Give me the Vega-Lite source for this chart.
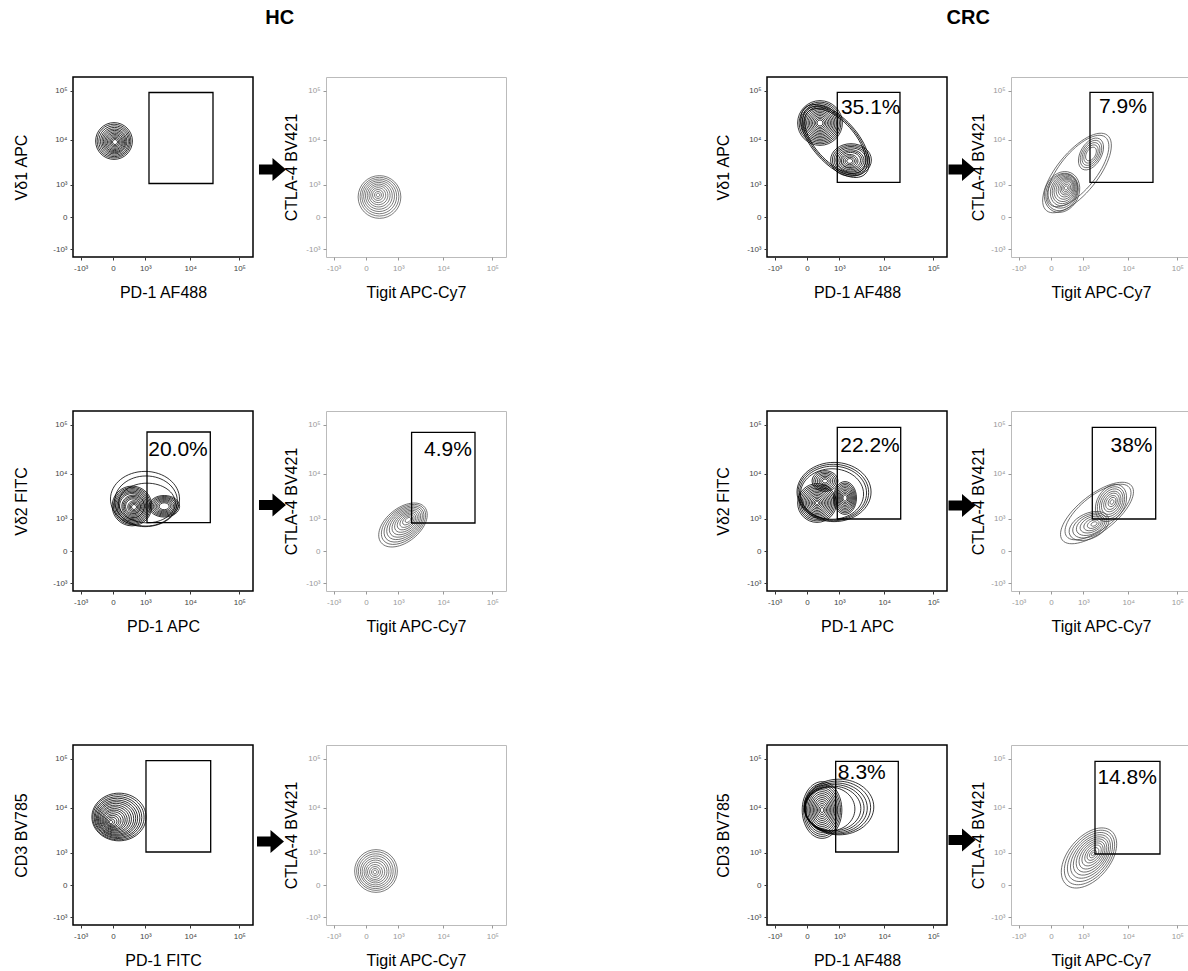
{
"$schema":"https://vega.github.io/schema/vega-lite/v6.json",
"padding":{"left":13,"top":8,"right":0,"bottom":0},
"background":"white",
"config":{
 "font":"Liberation Sans",
 "axis":{"grid":false,"domain":false,"tickSize":3,"tickColor":"#333","tickWidth":1,"labelFontSize":8,"labelColor":"#444","labelFont":"Liberation Sans","titleFont":"Liberation Sans","titleFontSize":16,"titleFontWeight":"normal","titleColor":"#000","labelOverlap":false,"labelFlush":false,"labelBound":false},
 "axisX":{"labelPadding":4,"titlePadding":12},
 "axisY":{"labelPadding":3},
 "title":{"font":"Liberation Sans","fontSize":20,"fontWeight":"bold","anchor":"middle","color":"#000"}
},
"datasets":{
 "contours":[
  {"p":"P1","x":14,"y":9450,"d":0.74,"f":"c","a":0},
  {"p":"P1","x":14,"y":9420,"d":0.68,"f":"c","a":0},
  {"p":"P1","x":17,"y":9350,"d":0.62,"f":"c","a":0},
  {"p":"P1","x":20,"y":9300,"d":0.56,"f":"c","a":0},
  {"p":"P1","x":20,"y":9250,"d":0.50,"f":"c","a":0},
  {"p":"P1","x":22,"y":9200,"d":0.45,"f":"c","a":0},
  {"p":"P1","x":24,"y":9100,"d":0.40,"f":"c","a":0},
  {"p":"P1","x":24,"y":9050,"d":0.35,"f":"c","a":0},
  {"p":"P1","x":26,"y":9000,"d":0.30,"f":"c","a":0},
  {"p":"P1","x":28,"y":9000,"d":0.25,"f":"c","a":0},
  {"p":"P1","x":28,"y":9000,"d":0.20,"f":"c","a":0},
  {"p":"P1","x":28,"y":9000,"d":0.15,"f":"c","a":0},
  {"p":"P1","x":28,"y":9000,"d":0.10,"f":"c","a":0},
  {"p":"P2","x":250,"y":440,"d":0.86,"f":"c","a":0},
  {"p":"P2","x":250,"y":450,"d":0.78,"f":"c","a":0},
  {"p":"P2","x":245,"y":460,"d":0.70,"f":"c","a":0},
  {"p":"P2","x":240,"y":470,"d":0.62,"f":"c","a":0},
  {"p":"P2","x":235,"y":480,"d":0.54,"f":"c","a":0},
  {"p":"P2","x":230,"y":490,"d":0.46,"f":"c","a":0},
  {"p":"P2","x":225,"y":500,"d":0.38,"f":"c","a":0},
  {"p":"P2","x":220,"y":505,"d":0.30,"f":"c","a":0},
  {"p":"P2","x":214,"y":511,"d":0.22,"f":"c","a":0},
  {"p":"P2","x":214,"y":511,"d":0.14,"f":"c","a":0},
  {"p":"P2","x":214,"y":511,"d":0.07,"f":"c","a":0},
  {"p":"P3","x":766,"y":9452,"d":1.80,"f":"e5","a":48},
  {"p":"P3","x":766,"y":9452,"d":1.70,"f":"e5","a":48},
  {"p":"P3","x":766,"y":9452,"d":1.60,"f":"e5","a":48},
  {"p":"P3","x":238,"y":22150,"d":0.90,"f":"c","a":0},
  {"p":"P3","x":238,"y":22150,"d":0.84,"f":"c","a":0},
  {"p":"P3","x":238,"y":22150,"d":0.78,"f":"c","a":0},
  {"p":"P3","x":238,"y":22150,"d":0.72,"f":"c","a":0},
  {"p":"P3","x":238,"y":22150,"d":0.66,"f":"c","a":0},
  {"p":"P3","x":238,"y":22150,"d":0.60,"f":"c","a":0},
  {"p":"P3","x":238,"y":22150,"d":0.54,"f":"c","a":0},
  {"p":"P3","x":238,"y":22150,"d":0.48,"f":"c","a":0},
  {"p":"P3","x":238,"y":22150,"d":0.42,"f":"c","a":0},
  {"p":"P3","x":238,"y":22150,"d":0.36,"f":"c","a":0},
  {"p":"P3","x":238,"y":22150,"d":0.30,"f":"c","a":0},
  {"p":"P3","x":238,"y":22150,"d":0.24,"f":"c","a":0},
  {"p":"P3","x":238,"y":22150,"d":0.18,"f":"c","a":0},
  {"p":"P3","x":238,"y":22150,"d":0.12,"f":"c","a":0},
  {"p":"P3","x":1924,"y":3750,"d":0.82,"f":"e8","a":0},
  {"p":"P3","x":1924,"y":3750,"d":0.75,"f":"e8","a":0},
  {"p":"P3","x":1924,"y":3750,"d":0.68,"f":"e8","a":0},
  {"p":"P3","x":1924,"y":3750,"d":0.61,"f":"e8","a":0},
  {"p":"P3","x":1880,"y":3680,"d":0.54,"f":"e8","a":0},
  {"p":"P3","x":1880,"y":3680,"d":0.47,"f":"e8","a":0},
  {"p":"P3","x":1880,"y":3680,"d":0.40,"f":"e8","a":0},
  {"p":"P3","x":1800,"y":3570,"d":0.33,"f":"e8","a":0},
  {"p":"P3","x":1800,"y":3570,"d":0.26,"f":"e8","a":0},
  {"p":"P3","x":1800,"y":3570,"d":0.19,"f":"e8","a":0},
  {"p":"P3","x":1800,"y":3570,"d":0.12,"f":"e8","a":0},
  {"p":"P4","x":673,"y":1924,"d":1.95,"f":"e4","a":-51},
  {"p":"P4","x":720,"y":2139,"d":1.75,"f":"e4","a":-51},
  {"p":"P4","x":192,"y":630,"d":0.85,"f":"e8","a":-65},
  {"p":"P4","x":192,"y":630,"d":0.78,"f":"e8","a":-65},
  {"p":"P4","x":210,"y":670,"d":0.71,"f":"e8","a":-65},
  {"p":"P4","x":230,"y":700,"d":0.64,"f":"e8","a":-65},
  {"p":"P4","x":240,"y":720,"d":0.57,"f":"e8","a":-65},
  {"p":"P4","x":250,"y":740,"d":0.50,"f":"e8","a":-65},
  {"p":"P4","x":265,"y":770,"d":0.43,"f":"e8","a":-65},
  {"p":"P4","x":280,"y":800,"d":0.36,"f":"e8","a":-65},
  {"p":"P4","x":290,"y":817,"d":0.29,"f":"e8","a":-65},
  {"p":"P4","x":290,"y":817,"d":0.22,"f":"e8","a":-65},
  {"p":"P4","x":290,"y":817,"d":0.15,"f":"e8","a":-65},
  {"p":"P4","x":290,"y":817,"d":0.08,"f":"e8","a":-65},
  {"p":"P4","x":1549,"y":5050,"d":0.70,"f":"e6","a":-60},
  {"p":"P4","x":1549,"y":5050,"d":0.60,"f":"e6","a":-60},
  {"p":"P4","x":1549,"y":5050,"d":0.50,"f":"e6","a":-60},
  {"p":"P4","x":1549,"y":5050,"d":0.40,"f":"e6","a":-60},
  {"p":"P4","x":1549,"y":5050,"d":0.30,"f":"e6","a":-60},
  {"p":"P5","x":981,"y":2915,"d":1.39,"f":"e8","a":0},
  {"p":"P5","x":1043,"y":2632,"d":1.26,"f":"e8","a":0},
  {"p":"P5","x":1104,"y":2374,"d":1.14,"f":"e7","a":0},
  {"p":"P5","x":407,"y":2030,"d":0.80,"f":"c","a":0},
  {"p":"P5","x":407,"y":2030,"d":0.75,"f":"c","a":0},
  {"p":"P5","x":407,"y":2030,"d":0.70,"f":"c","a":0},
  {"p":"P5","x":407,"y":2030,"d":0.65,"f":"c","a":0},
  {"p":"P5","x":407,"y":2030,"d":0.60,"f":"c","a":0},
  {"p":"P5","x":407,"y":2030,"d":0.55,"f":"c","a":0},
  {"p":"P5","x":407,"y":2030,"d":0.50,"f":"c","a":0},
  {"p":"P5","x":440,"y":1990,"d":0.45,"f":"c","a":0},
  {"p":"P5","x":440,"y":1990,"d":0.40,"f":"c","a":0},
  {"p":"P5","x":440,"y":1990,"d":0.35,"f":"c","a":0},
  {"p":"P5","x":440,"y":1990,"d":0.30,"f":"c","a":0},
  {"p":"P5","x":475,"y":1924,"d":0.25,"f":"c","a":0},
  {"p":"P5","x":475,"y":1924,"d":0.20,"f":"c","a":0},
  {"p":"P5","x":475,"y":1924,"d":0.15,"f":"c","a":0},
  {"p":"P5","x":475,"y":1924,"d":0.10,"f":"c","a":0},
  {"p":"P5","x":2800,"y":2000,"d":0.62,"f":"e7","a":0},
  {"p":"P5","x":2800,"y":2000,"d":0.56,"f":"e7","a":0},
  {"p":"P5","x":2800,"y":2000,"d":0.50,"f":"e7","a":0},
  {"p":"P5","x":2800,"y":2000,"d":0.44,"f":"e7","a":0},
  {"p":"P5","x":2800,"y":2000,"d":0.38,"f":"e7","a":0},
  {"p":"P5","x":2800,"y":2000,"d":0.32,"f":"e7","a":0},
  {"p":"P5","x":2800,"y":2000,"d":0.26,"f":"e7","a":0},
  {"p":"P5","x":2800,"y":2000,"d":0.20,"f":"e7","a":0},
  {"p":"P6","x":1310,"y":673,"d":1.13,"f":"e6","a":-39},
  {"p":"P6","x":1350,"y":700,"d":1.03,"f":"e6","a":-39},
  {"p":"P6","x":1387,"y":720,"d":0.93,"f":"e6","a":-39},
  {"p":"P6","x":1430,"y":745,"d":0.83,"f":"e6","a":-39},
  {"p":"P6","x":1466,"y":766,"d":0.73,"f":"e6","a":-39},
  {"p":"P6","x":1510,"y":790,"d":0.63,"f":"e6","a":-39},
  {"p":"P6","x":1549,"y":817,"d":0.53,"f":"e6","a":-39},
  {"p":"P6","x":1590,"y":843,"d":0.43,"f":"e6","a":-39},
  {"p":"P6","x":1638,"y":869,"d":0.33,"f":"e6","a":-39},
  {"p":"P6","x":1683,"y":900,"d":0.23,"f":"e6","a":-39},
  {"p":"P6","x":1728,"y":925,"d":0.13,"f":"e6","a":-39},
  {"p":"P7","x":720,"y":4140,"d":1.49,"f":"e8","a":0},
  {"p":"P7","x":690,"y":4040,"d":1.42,"f":"e8","a":0},
  {"p":"P7","x":673,"y":3943,"d":1.35,"f":"e8","a":0},
  {"p":"P7","x":630,"y":3750,"d":1.27,"f":"e8","a":0},
  {"p":"P7","x":170,"y":2374,"d":0.78,"f":"c","a":0},
  {"p":"P7","x":170,"y":2374,"d":0.72,"f":"c","a":0},
  {"p":"P7","x":170,"y":2374,"d":0.66,"f":"c","a":0},
  {"p":"P7","x":170,"y":2374,"d":0.60,"f":"c","a":0},
  {"p":"P7","x":170,"y":2374,"d":0.54,"f":"c","a":0},
  {"p":"P7","x":170,"y":2374,"d":0.48,"f":"c","a":0},
  {"p":"P7","x":170,"y":2374,"d":0.42,"f":"c","a":0},
  {"p":"P7","x":170,"y":2374,"d":0.36,"f":"c","a":0},
  {"p":"P7","x":170,"y":2374,"d":0.30,"f":"c","a":0},
  {"p":"P7","x":170,"y":2374,"d":0.24,"f":"c","a":0},
  {"p":"P7","x":170,"y":2374,"d":0.18,"f":"c","a":0},
  {"p":"P7","x":170,"y":2374,"d":0.12,"f":"c","a":0},
  {"p":"P7","x":170,"y":2374,"d":0.07,"f":"c","a":0},
  {"p":"P7","x":375,"y":7088,"d":0.52,"f":"e8","a":0},
  {"p":"P7","x":375,"y":7088,"d":0.45,"f":"e8","a":0},
  {"p":"P7","x":375,"y":7088,"d":0.38,"f":"e8","a":0},
  {"p":"P7","x":375,"y":7088,"d":0.31,"f":"e8","a":0},
  {"p":"P7","x":375,"y":7088,"d":0.24,"f":"e8","a":0},
  {"p":"P7","x":375,"y":7088,"d":0.17,"f":"e8","a":0},
  {"p":"P7","x":375,"y":7088,"d":0.10,"f":"e8","a":0},
  {"p":"P7","x":1387,"y":3070,"d":0.66,"f":"e7","a":90},
  {"p":"P7","x":1387,"y":3070,"d":0.60,"f":"e7","a":90},
  {"p":"P7","x":1387,"y":3070,"d":0.54,"f":"e7","a":90},
  {"p":"P7","x":1387,"y":3070,"d":0.48,"f":"e7","a":90},
  {"p":"P7","x":1387,"y":3070,"d":0.42,"f":"e7","a":90},
  {"p":"P7","x":1387,"y":3070,"d":0.36,"f":"e7","a":90},
  {"p":"P7","x":1387,"y":3070,"d":0.30,"f":"e7","a":90},
  {"p":"P7","x":1387,"y":3070,"d":0.24,"f":"e7","a":90},
  {"p":"P7","x":1387,"y":3070,"d":0.18,"f":"e7","a":90},
  {"p":"P7","x":1387,"y":3070,"d":0.12,"f":"e7","a":90},
  {"p":"P8","x":2139,"y":1387,"d":1.77,"f":"e4","a":-38},
  {"p":"P8","x":2255,"y":1466,"d":1.60,"f":"e4","a":-38},
  {"p":"P8","x":4353,"y":2374,"d":0.80,"f":"e7","a":-60},
  {"p":"P8","x":4353,"y":2374,"d":0.70,"f":"e7","a":-60},
  {"p":"P8","x":4400,"y":2400,"d":0.60,"f":"e7","a":-60},
  {"p":"P8","x":4400,"y":2400,"d":0.50,"f":"e7","a":-60},
  {"p":"P8","x":4460,"y":2440,"d":0.40,"f":"e7","a":-60},
  {"p":"P8","x":4460,"y":2440,"d":0.30,"f":"e7","a":-60},
  {"p":"P8","x":4570,"y":2500,"d":0.20,"f":"e7","a":-60},
  {"p":"P8","x":4570,"y":2500,"d":0.10,"f":"e7","a":-60},
  {"p":"P8","x":1387,"y":630,"d":0.85,"f":"e6","a":-25},
  {"p":"P8","x":1450,"y":650,"d":0.73,"f":"e6","a":-25},
  {"p":"P8","x":1520,"y":670,"d":0.61,"f":"e6","a":-25},
  {"p":"P8","x":1600,"y":690,"d":0.49,"f":"e6","a":-25},
  {"p":"P8","x":1680,"y":700,"d":0.37,"f":"e6","a":-25},
  {"p":"P8","x":1750,"y":710,"d":0.25,"f":"e6","a":-25},
  {"p":"P8","x":1826,"y":720,"d":0.13,"f":"e6","a":-25},
  {"p":"P9","x":92,"y":6437,"d":1.09,"f":"e9","a":0},
  {"p":"P9","x":83,"y":6350,"d":1.03,"f":"e9","a":0},
  {"p":"P9","x":75,"y":6260,"d":0.96,"f":"e9","a":0},
  {"p":"P9","x":67,"y":6170,"d":0.90,"f":"e9","a":0},
  {"p":"P9","x":59,"y":6080,"d":0.83,"f":"e9","a":0},
  {"p":"P9","x":52,"y":5990,"d":0.77,"f":"e9","a":0},
  {"p":"P9","x":44,"y":5900,"d":0.71,"f":"e9","a":0},
  {"p":"P9","x":36,"y":5810,"d":0.64,"f":"e9","a":0},
  {"p":"P9","x":28,"y":5720,"d":0.58,"f":"e9","a":0},
  {"p":"P9","x":21,"y":5640,"d":0.51,"f":"e9","a":0},
  {"p":"P9","x":14,"y":5570,"d":0.45,"f":"e9","a":0},
  {"p":"P9","x":7,"y":5470,"d":0.39,"f":"e9","a":0},
  {"p":"P9","x":0,"y":5370,"d":0.32,"f":"e9","a":0},
  {"p":"P9","x":-7,"y":5270,"d":0.26,"f":"e9","a":0},
  {"p":"P9","x":-14,"y":5170,"d":0.20,"f":"e9","a":0},
  {"p":"P9","x":-21,"y":5100,"d":0.13,"f":"e9","a":0},
  {"p":"P9","x":-28,"y":5040,"d":0.07,"f":"e9","a":0},
  {"p":"P10","x":170,"y":263,"d":0.86,"f":"c","a":0},
  {"p":"P10","x":170,"y":263,"d":0.78,"f":"c","a":0},
  {"p":"P10","x":165,"y":258,"d":0.70,"f":"c","a":0},
  {"p":"P10","x":165,"y":255,"d":0.62,"f":"c","a":0},
  {"p":"P10","x":160,"y":250,"d":0.54,"f":"c","a":0},
  {"p":"P10","x":160,"y":250,"d":0.46,"f":"c","a":0},
  {"p":"P10","x":155,"y":245,"d":0.38,"f":"c","a":0},
  {"p":"P10","x":149,"y":238,"d":0.30,"f":"c","a":0},
  {"p":"P10","x":149,"y":238,"d":0.22,"f":"c","a":0},
  {"p":"P10","x":149,"y":238,"d":0.14,"f":"c","a":0},
  {"p":"P10","x":149,"y":238,"d":0.07,"f":"c","a":0},
  {"p":"P11","x":981,"y":10397,"d":1.40,"f":"e8","a":0},
  {"p":"P11","x":900,"y":10150,"d":1.33,"f":"e8","a":0},
  {"p":"P11","x":815,"y":9920,"d":1.26,"f":"e8","a":0},
  {"p":"P11","x":740,"y":9800,"d":1.19,"f":"e8","a":0},
  {"p":"P11","x":673,"y":9690,"d":1.12,"f":"e8","a":0},
  {"p":"P11","x":550,"y":9452,"d":1.00,"f":"e9","a":0},
  {"p":"P11","x":290,"y":9000,"d":1.14,"f":"e7","a":90},
  {"p":"P11","x":290,"y":9000,"d":1.06,"f":"e7","a":90},
  {"p":"P11","x":290,"y":9000,"d":0.98,"f":"e7","a":90},
  {"p":"P11","x":290,"y":9000,"d":0.90,"f":"e7","a":90},
  {"p":"P11","x":290,"y":9000,"d":0.82,"f":"e7","a":90},
  {"p":"P11","x":290,"y":9000,"d":0.74,"f":"e7","a":90},
  {"p":"P11","x":290,"y":9000,"d":0.66,"f":"e7","a":90},
  {"p":"P11","x":290,"y":9000,"d":0.58,"f":"e7","a":90},
  {"p":"P11","x":290,"y":9000,"d":0.50,"f":"e7","a":90},
  {"p":"P11","x":290,"y":9000,"d":0.42,"f":"e7","a":90},
  {"p":"P11","x":290,"y":9000,"d":0.34,"f":"e7","a":90},
  {"p":"P11","x":290,"y":9000,"d":0.26,"f":"e7","a":90},
  {"p":"P11","x":290,"y":9000,"d":0.18,"f":"e7","a":90},
  {"p":"P11","x":290,"y":9000,"d":0.10,"f":"e7","a":90},
  {"p":"P12","x":1387,"y":720,"d":1.41,"f":"e6","a":-50},
  {"p":"P12","x":1426,"y":743,"d":1.28,"f":"e6","a":-50},
  {"p":"P12","x":1466,"y":766,"d":1.15,"f":"e6","a":-50},
  {"p":"P12","x":1507,"y":792,"d":1.02,"f":"e6","a":-50},
  {"p":"P12","x":1549,"y":817,"d":0.90,"f":"e6","a":-50},
  {"p":"P12","x":1593,"y":843,"d":0.78,"f":"e6","a":-50},
  {"p":"P12","x":1638,"y":869,"d":0.66,"f":"e6","a":-50},
  {"p":"P12","x":1683,"y":900,"d":0.54,"f":"e6","a":-50},
  {"p":"P12","x":1728,"y":925,"d":0.42,"f":"e6","a":-50},
  {"p":"P12","x":1728,"y":925,"d":0.30,"f":"e6","a":-50},
  {"p":"P12","x":1728,"y":925,"d":0.18,"f":"e6","a":-50},
  {"p":"P12","x":1728,"y":925,"d":0.08,"f":"e6","a":-50}
 ],
 "gates":[
  {"p":"P1","x":1238,"xe":29320,"y":1071,"ye":91870},
  {"p":"P3","x":884,"xe":21100,"y":1149,"ye":92800},
  {"p":"P4","x":1466,"xe":32170,"y":1140,"ye":92800},
  {"p":"P5","x":1104,"xe":25860,"y":786,"ye":71100},
  {"p":"P6","x":2094,"xe":44640,"y":766,"ye":70130},
  {"p":"P7","x":884,"xe":21830,"y":981,"ye":88500},
  {"p":"P8","x":1664,"xe":36540,"y":981,"ye":88500},
  {"p":"P9","x":1040,"xe":26320,"y":1040,"ye":91000},
  {"p":"P11","x":800,"xe":19500,"y":1040,"ye":88500},
  {"p":"P12","x":1924,"xe":44640,"y":923,"ye":88500}
 ],
 "labels":[
  {"p":"P3","x":5224,"y":44000,"t":"35.1%"},
  {"p":"P4","x":7805,"y":47400,"t":"7.9%"},
  {"p":"P5","x":5564,"y":30580,"t":"20.0%"},
  {"p":"P6","x":12580,"y":30600,"t":"4.9%"},
  {"p":"P7","x":5050,"y":37600,"t":"22.2%"},
  {"p":"P8","x":11710,"y":37600,"t":"38%"},
  {"p":"P11","x":3360,"y":51380,"t":"8.3%"},
  {"p":"P12","x":9530,"y":40660,"t":"14.8%"}
 ],
 "arrows":[
  {"p":"P1","x":465700,"y":2313},
  {"p":"P5","x":465700,"y":2139},
  {"p":"P9","x":424800,"y":1872},
  {"p":"P3","x":378400,"y":2313},
  {"p":"P7","x":378400,"y":2085},
  {"p":"P11","x":378400,"y":2030}
 ]
},
"spacing":208,
"hconcat":[
 {"title":{"text":"HC","offset":48,"dx":20},"columns":2,"bounds":"flush","spacing":{"row":154,"column":73},
  "concat":[
   {"width":180,"height":180,"view":{"stroke":"#000","strokeWidth":1.5},
    "layer":[
     {"data":{"name":"contours"},"transform":[{"filter":"datum.p=='P1'"}],
      "mark":{"type":"point","filled":false,"stroke":"#000","strokeWidth":0.8,"opacity":1},
      "encoding":{
       "x":{"field":"x","type":"quantitative","scale":{"type":"symlog","constant":288,"domain":[-1549,188650],"nice":false,"zero":false},"axis":{"title":"PD-1 AF488","values":[-1000,0,1000,10000,100000],"labelExpr":"datum.value == 0 ? '0' : datum.value < 0 ? '-10³' : datum.value == 1000 ? '10³' : datum.value == 10000 ? '10⁴' : '10⁵'"}},
       "y":{"field":"y","type":"quantitative","scale":{"type":"symlog","constant":288,"domain":[-1549,188650],"nice":false,"zero":false},"axis":{"title":"Vδ1 APC","titlePadding":23,"values":[-1000,0,1000,10000,100000],"labelExpr":"datum.value == 0 ? '0' : datum.value < 0 ? '-10³' : datum.value == 1000 ? '10³' : datum.value == 10000 ? '10⁴' : '10⁵'"}},
       "size":{"field":"d","type":"quantitative","scale":{"type":"pow","exponent":2,"domain":[0,2],"range":[0,9880]},"legend":null},
       "shape":{"field":"f","type":"nominal","scale":{"domain":["c","e9","e8","e7","e6","e5","e4"],"range":["M-1,0A1,1,0,1,0,1,0A1,1,0,1,0,-1,0Z","M-1,0A1,0.88,0,1,0,1,0A1,0.88,0,1,0,-1,0Z","M-1,0A1,0.8,0,1,0,1,0A1,0.8,0,1,0,-1,0Z","M-1,0A1,0.7,0,1,0,1,0A1,0.7,0,1,0,-1,0Z","M-1,0A1,0.6,0,1,0,1,0A1,0.6,0,1,0,-1,0Z","M-1,0A1,0.5,0,1,0,1,0A1,0.5,0,1,0,-1,0Z","M-1,0A1,0.42,0,1,0,1,0A1,0.42,0,1,0,-1,0Z"]},"legend":null},
       "angle":{"field":"a","type":"quantitative","scale":null}}},
     {"data":{"name":"gates"},"transform":[{"filter":"datum.p=='P1'"}],
      "mark":{"type":"rect","fill":"transparent","stroke":"#000","strokeWidth":1.3},
      "encoding":{"x":{"field":"x","type":"quantitative"},"x2":{"field":"xe"},"y":{"field":"y","type":"quantitative"},"y2":{"field":"ye"}}},
     {"data":{"name":"arrows"},"transform":[{"filter":"datum.p=='P1'"}],
      "mark":{"type":"point","filled":true,"fill":"#000","strokeWidth":0,"opacity":1,"shape":"M-1,-0.37L0,-0.37L0,-0.85L1,0L0,0.85L0,0.37L-1,0.37Z","size":729},
      "encoding":{"x":{"field":"x","type":"quantitative"},"y":{"field":"y","type":"quantitative"}}}
    ]},
   {"width":180,"height":180,"view":{"stroke":"#bbb","strokeWidth":1},
    "layer":[
     {"data":{"name":"contours"},"transform":[{"filter":"datum.p=='P2'"}],
      "mark":{"type":"point","filled":false,"stroke":"#444","strokeWidth":0.7,"opacity":1},
      "encoding":{
       "x":{"field":"x","type":"quantitative","scale":{"type":"symlog","constant":288,"domain":[-1549,188650],"nice":false,"zero":false},"axis":{"title":"Tigit APC-Cy7","labelColor":"#999","tickColor":"#999","values":[-1000,0,1000,10000,100000],"labelExpr":"datum.value == 0 ? '0' : datum.value < 0 ? '-10³' : datum.value == 1000 ? '10³' : datum.value == 10000 ? '10⁴' : '10⁵'"}},
       "y":{"field":"y","type":"quantitative","scale":{"type":"symlog","constant":288,"domain":[-1549,188650],"nice":false,"zero":false},"axis":{"title":"CTLA-4 BV421","titlePadding":6,"labelColor":"#999","tickColor":"#999","values":[-1000,0,1000,10000,100000],"labelExpr":"datum.value == 0 ? '0' : datum.value < 0 ? '-10³' : datum.value == 1000 ? '10³' : datum.value == 10000 ? '10⁴' : '10⁵'"}},
       "size":{"field":"d","type":"quantitative","scale":{"type":"pow","exponent":2,"domain":[0,2],"range":[0,9880]},"legend":null},
       "shape":{"field":"f","type":"nominal","scale":{"domain":["c","e9","e8","e7","e6","e5","e4"],"range":["M-1,0A1,1,0,1,0,1,0A1,1,0,1,0,-1,0Z","M-1,0A1,0.88,0,1,0,1,0A1,0.88,0,1,0,-1,0Z","M-1,0A1,0.8,0,1,0,1,0A1,0.8,0,1,0,-1,0Z","M-1,0A1,0.7,0,1,0,1,0A1,0.7,0,1,0,-1,0Z","M-1,0A1,0.6,0,1,0,1,0A1,0.6,0,1,0,-1,0Z","M-1,0A1,0.5,0,1,0,1,0A1,0.5,0,1,0,-1,0Z","M-1,0A1,0.42,0,1,0,1,0A1,0.42,0,1,0,-1,0Z"]},"legend":null},
       "angle":{"field":"a","type":"quantitative","scale":null}}}
    ]},
   {"width":180,"height":180,"view":{"stroke":"#000","strokeWidth":1.5},
    "layer":[
     {"data":{"name":"contours"},"transform":[{"filter":"datum.p=='P5'"}],
      "mark":{"type":"point","filled":false,"stroke":"#000","strokeWidth":0.8,"opacity":1},
      "encoding":{
       "x":{"field":"x","type":"quantitative","scale":{"type":"symlog","constant":288,"domain":[-1549,188650],"nice":false,"zero":false},"axis":{"title":"PD-1 APC","values":[-1000,0,1000,10000,100000],"labelExpr":"datum.value == 0 ? '0' : datum.value < 0 ? '-10³' : datum.value == 1000 ? '10³' : datum.value == 10000 ? '10⁴' : '10⁵'"}},
       "y":{"field":"y","type":"quantitative","scale":{"type":"symlog","constant":288,"domain":[-1549,188650],"nice":false,"zero":false},"axis":{"title":"Vδ2 FITC","titlePadding":23,"values":[-1000,0,1000,10000,100000],"labelExpr":"datum.value == 0 ? '0' : datum.value < 0 ? '-10³' : datum.value == 1000 ? '10³' : datum.value == 10000 ? '10⁴' : '10⁵'"}},
       "size":{"field":"d","type":"quantitative","scale":{"type":"pow","exponent":2,"domain":[0,2],"range":[0,9880]},"legend":null},
       "shape":{"field":"f","type":"nominal","scale":{"domain":["c","e9","e8","e7","e6","e5","e4"],"range":["M-1,0A1,1,0,1,0,1,0A1,1,0,1,0,-1,0Z","M-1,0A1,0.88,0,1,0,1,0A1,0.88,0,1,0,-1,0Z","M-1,0A1,0.8,0,1,0,1,0A1,0.8,0,1,0,-1,0Z","M-1,0A1,0.7,0,1,0,1,0A1,0.7,0,1,0,-1,0Z","M-1,0A1,0.6,0,1,0,1,0A1,0.6,0,1,0,-1,0Z","M-1,0A1,0.5,0,1,0,1,0A1,0.5,0,1,0,-1,0Z","M-1,0A1,0.42,0,1,0,1,0A1,0.42,0,1,0,-1,0Z"]},"legend":null},
       "angle":{"field":"a","type":"quantitative","scale":null}}},
     {"data":{"name":"gates"},"transform":[{"filter":"datum.p=='P5'"}],
      "mark":{"type":"rect","fill":"transparent","stroke":"#000","strokeWidth":1.3},
      "encoding":{"x":{"field":"x","type":"quantitative"},"x2":{"field":"xe"},"y":{"field":"y","type":"quantitative"},"y2":{"field":"ye"}}},
     {"data":{"name":"labels"},"transform":[{"filter":"datum.p=='P5'"}],
      "mark":{"type":"text","fontSize":21,"font":"Liberation Sans","align":"center","baseline":"middle","color":"#000"},
      "encoding":{"x":{"field":"x","type":"quantitative"},"y":{"field":"y","type":"quantitative"},"text":{"field":"t"}}},
     {"data":{"name":"arrows"},"transform":[{"filter":"datum.p=='P5'"}],
      "mark":{"type":"point","filled":true,"fill":"#000","strokeWidth":0,"opacity":1,"shape":"M-1,-0.37L0,-0.37L0,-0.85L1,0L0,0.85L0,0.37L-1,0.37Z","size":729},
      "encoding":{"x":{"field":"x","type":"quantitative"},"y":{"field":"y","type":"quantitative"}}}
    ]},
   {"width":180,"height":180,"view":{"stroke":"#bbb","strokeWidth":1},
    "layer":[
     {"data":{"name":"contours"},"transform":[{"filter":"datum.p=='P6'"}],
      "mark":{"type":"point","filled":false,"stroke":"#444","strokeWidth":0.7,"opacity":1},
      "encoding":{
       "x":{"field":"x","type":"quantitative","scale":{"type":"symlog","constant":288,"domain":[-1549,188650],"nice":false,"zero":false},"axis":{"title":"Tigit APC-Cy7","labelColor":"#999","tickColor":"#999","values":[-1000,0,1000,10000,100000],"labelExpr":"datum.value == 0 ? '0' : datum.value < 0 ? '-10³' : datum.value == 1000 ? '10³' : datum.value == 10000 ? '10⁴' : '10⁵'"}},
       "y":{"field":"y","type":"quantitative","scale":{"type":"symlog","constant":288,"domain":[-1549,188650],"nice":false,"zero":false},"axis":{"title":"CTLA-4 BV421","titlePadding":6,"labelColor":"#999","tickColor":"#999","values":[-1000,0,1000,10000,100000],"labelExpr":"datum.value == 0 ? '0' : datum.value < 0 ? '-10³' : datum.value == 1000 ? '10³' : datum.value == 10000 ? '10⁴' : '10⁵'"}},
       "size":{"field":"d","type":"quantitative","scale":{"type":"pow","exponent":2,"domain":[0,2],"range":[0,9880]},"legend":null},
       "shape":{"field":"f","type":"nominal","scale":{"domain":["c","e9","e8","e7","e6","e5","e4"],"range":["M-1,0A1,1,0,1,0,1,0A1,1,0,1,0,-1,0Z","M-1,0A1,0.88,0,1,0,1,0A1,0.88,0,1,0,-1,0Z","M-1,0A1,0.8,0,1,0,1,0A1,0.8,0,1,0,-1,0Z","M-1,0A1,0.7,0,1,0,1,0A1,0.7,0,1,0,-1,0Z","M-1,0A1,0.6,0,1,0,1,0A1,0.6,0,1,0,-1,0Z","M-1,0A1,0.5,0,1,0,1,0A1,0.5,0,1,0,-1,0Z","M-1,0A1,0.42,0,1,0,1,0A1,0.42,0,1,0,-1,0Z"]},"legend":null},
       "angle":{"field":"a","type":"quantitative","scale":null}}},
     {"data":{"name":"gates"},"transform":[{"filter":"datum.p=='P6'"}],
      "mark":{"type":"rect","fill":"transparent","stroke":"#000","strokeWidth":1.3},
      "encoding":{"x":{"field":"x","type":"quantitative"},"x2":{"field":"xe"},"y":{"field":"y","type":"quantitative"},"y2":{"field":"ye"}}},
     {"data":{"name":"labels"},"transform":[{"filter":"datum.p=='P6'"}],
      "mark":{"type":"text","fontSize":21,"font":"Liberation Sans","align":"center","baseline":"middle","color":"#000"},
      "encoding":{"x":{"field":"x","type":"quantitative"},"y":{"field":"y","type":"quantitative"},"text":{"field":"t"}}}
    ]},
   {"width":180,"height":180,"view":{"stroke":"#000","strokeWidth":1.5},
    "layer":[
     {"data":{"name":"contours"},"transform":[{"filter":"datum.p=='P9'"}],
      "mark":{"type":"point","filled":false,"stroke":"#000","strokeWidth":0.8,"opacity":1},
      "encoding":{
       "x":{"field":"x","type":"quantitative","scale":{"type":"symlog","constant":288,"domain":[-1549,188650],"nice":false,"zero":false},"axis":{"title":"PD-1 FITC","values":[-1000,0,1000,10000,100000],"labelExpr":"datum.value == 0 ? '0' : datum.value < 0 ? '-10³' : datum.value == 1000 ? '10³' : datum.value == 10000 ? '10⁴' : '10⁵'"}},
       "y":{"field":"y","type":"quantitative","scale":{"type":"symlog","constant":288,"domain":[-1549,188650],"nice":false,"zero":false},"axis":{"title":"CD3 BV785","titlePadding":23,"values":[-1000,0,1000,10000,100000],"labelExpr":"datum.value == 0 ? '0' : datum.value < 0 ? '-10³' : datum.value == 1000 ? '10³' : datum.value == 10000 ? '10⁴' : '10⁵'"}},
       "size":{"field":"d","type":"quantitative","scale":{"type":"pow","exponent":2,"domain":[0,2],"range":[0,9880]},"legend":null},
       "shape":{"field":"f","type":"nominal","scale":{"domain":["c","e9","e8","e7","e6","e5","e4"],"range":["M-1,0A1,1,0,1,0,1,0A1,1,0,1,0,-1,0Z","M-1,0A1,0.88,0,1,0,1,0A1,0.88,0,1,0,-1,0Z","M-1,0A1,0.8,0,1,0,1,0A1,0.8,0,1,0,-1,0Z","M-1,0A1,0.7,0,1,0,1,0A1,0.7,0,1,0,-1,0Z","M-1,0A1,0.6,0,1,0,1,0A1,0.6,0,1,0,-1,0Z","M-1,0A1,0.5,0,1,0,1,0A1,0.5,0,1,0,-1,0Z","M-1,0A1,0.42,0,1,0,1,0A1,0.42,0,1,0,-1,0Z"]},"legend":null},
       "angle":{"field":"a","type":"quantitative","scale":null}}},
     {"data":{"name":"gates"},"transform":[{"filter":"datum.p=='P9'"}],
      "mark":{"type":"rect","fill":"transparent","stroke":"#000","strokeWidth":1.3},
      "encoding":{"x":{"field":"x","type":"quantitative"},"x2":{"field":"xe"},"y":{"field":"y","type":"quantitative"},"y2":{"field":"ye"}}},
     {"data":{"name":"arrows"},"transform":[{"filter":"datum.p=='P9'"}],
      "mark":{"type":"point","filled":true,"fill":"#000","strokeWidth":0,"opacity":1,"shape":"M-1,-0.37L0,-0.37L0,-0.85L1,0L0,0.85L0,0.37L-1,0.37Z","size":729},
      "encoding":{"x":{"field":"x","type":"quantitative"},"y":{"field":"y","type":"quantitative"}}}
    ]},
   {"width":180,"height":180,"view":{"stroke":"#bbb","strokeWidth":1},
    "layer":[
     {"data":{"name":"contours"},"transform":[{"filter":"datum.p=='P10'"}],
      "mark":{"type":"point","filled":false,"stroke":"#444","strokeWidth":0.7,"opacity":1},
      "encoding":{
       "x":{"field":"x","type":"quantitative","scale":{"type":"symlog","constant":288,"domain":[-1549,188650],"nice":false,"zero":false},"axis":{"title":"Tigit APC-Cy7","labelColor":"#999","tickColor":"#999","values":[-1000,0,1000,10000,100000],"labelExpr":"datum.value == 0 ? '0' : datum.value < 0 ? '-10³' : datum.value == 1000 ? '10³' : datum.value == 10000 ? '10⁴' : '10⁵'"}},
       "y":{"field":"y","type":"quantitative","scale":{"type":"symlog","constant":288,"domain":[-1549,188650],"nice":false,"zero":false},"axis":{"title":"CTLA-4 BV421","titlePadding":6,"labelColor":"#999","tickColor":"#999","values":[-1000,0,1000,10000,100000],"labelExpr":"datum.value == 0 ? '0' : datum.value < 0 ? '-10³' : datum.value == 1000 ? '10³' : datum.value == 10000 ? '10⁴' : '10⁵'"}},
       "size":{"field":"d","type":"quantitative","scale":{"type":"pow","exponent":2,"domain":[0,2],"range":[0,9880]},"legend":null},
       "shape":{"field":"f","type":"nominal","scale":{"domain":["c","e9","e8","e7","e6","e5","e4"],"range":["M-1,0A1,1,0,1,0,1,0A1,1,0,1,0,-1,0Z","M-1,0A1,0.88,0,1,0,1,0A1,0.88,0,1,0,-1,0Z","M-1,0A1,0.8,0,1,0,1,0A1,0.8,0,1,0,-1,0Z","M-1,0A1,0.7,0,1,0,1,0A1,0.7,0,1,0,-1,0Z","M-1,0A1,0.6,0,1,0,1,0A1,0.6,0,1,0,-1,0Z","M-1,0A1,0.5,0,1,0,1,0A1,0.5,0,1,0,-1,0Z","M-1,0A1,0.42,0,1,0,1,0A1,0.42,0,1,0,-1,0Z"]},"legend":null},
       "angle":{"field":"a","type":"quantitative","scale":null}}}
    ]}
  ]},
 {"title":{"text":"CRC","offset":48,"dx":15},"columns":2,"bounds":"flush","spacing":{"row":154,"column":64},
  "concat":[
   {"width":180,"height":180,"view":{"stroke":"#000","strokeWidth":1.5},
    "layer":[
     {"data":{"name":"contours"},"transform":[{"filter":"datum.p=='P3'"}],
      "mark":{"type":"point","filled":false,"stroke":"#000","strokeWidth":0.8,"opacity":1},
      "encoding":{
       "x":{"field":"x","type":"quantitative","scale":{"type":"symlog","constant":288,"domain":[-1549,188650],"nice":false,"zero":false},"axis":{"title":"PD-1 AF488","values":[-1000,0,1000,10000,100000],"labelExpr":"datum.value == 0 ? '0' : datum.value < 0 ? '-10³' : datum.value == 1000 ? '10³' : datum.value == 10000 ? '10⁴' : '10⁵'"}},
       "y":{"field":"y","type":"quantitative","scale":{"type":"symlog","constant":288,"domain":[-1549,188650],"nice":false,"zero":false},"axis":{"title":"Vδ1 APC","titlePadding":15,"values":[-1000,0,1000,10000,100000],"labelExpr":"datum.value == 0 ? '0' : datum.value < 0 ? '-10³' : datum.value == 1000 ? '10³' : datum.value == 10000 ? '10⁴' : '10⁵'"}},
       "size":{"field":"d","type":"quantitative","scale":{"type":"pow","exponent":2,"domain":[0,2],"range":[0,9880]},"legend":null},
       "shape":{"field":"f","type":"nominal","scale":{"domain":["c","e9","e8","e7","e6","e5","e4"],"range":["M-1,0A1,1,0,1,0,1,0A1,1,0,1,0,-1,0Z","M-1,0A1,0.88,0,1,0,1,0A1,0.88,0,1,0,-1,0Z","M-1,0A1,0.8,0,1,0,1,0A1,0.8,0,1,0,-1,0Z","M-1,0A1,0.7,0,1,0,1,0A1,0.7,0,1,0,-1,0Z","M-1,0A1,0.6,0,1,0,1,0A1,0.6,0,1,0,-1,0Z","M-1,0A1,0.5,0,1,0,1,0A1,0.5,0,1,0,-1,0Z","M-1,0A1,0.42,0,1,0,1,0A1,0.42,0,1,0,-1,0Z"]},"legend":null},
       "angle":{"field":"a","type":"quantitative","scale":null}}},
     {"data":{"name":"gates"},"transform":[{"filter":"datum.p=='P3'"}],
      "mark":{"type":"rect","fill":"transparent","stroke":"#000","strokeWidth":1.3},
      "encoding":{"x":{"field":"x","type":"quantitative"},"x2":{"field":"xe"},"y":{"field":"y","type":"quantitative"},"y2":{"field":"ye"}}},
     {"data":{"name":"labels"},"transform":[{"filter":"datum.p=='P3'"}],
      "mark":{"type":"text","fontSize":21,"font":"Liberation Sans","align":"center","baseline":"middle","color":"#000"},
      "encoding":{"x":{"field":"x","type":"quantitative"},"y":{"field":"y","type":"quantitative"},"text":{"field":"t"}}},
     {"data":{"name":"arrows"},"transform":[{"filter":"datum.p=='P3'"}],
      "mark":{"type":"point","filled":true,"fill":"#000","strokeWidth":0,"opacity":1,"shape":"M-1,-0.37L0,-0.37L0,-0.85L1,0L0,0.85L0,0.37L-1,0.37Z","size":729},
      "encoding":{"x":{"field":"x","type":"quantitative"},"y":{"field":"y","type":"quantitative"}}}
    ]},
   {"width":180,"height":180,"view":{"stroke":"#bbb","strokeWidth":1},
    "layer":[
     {"data":{"name":"contours"},"transform":[{"filter":"datum.p=='P4'"}],
      "mark":{"type":"point","filled":false,"stroke":"#444","strokeWidth":0.7,"opacity":1},
      "encoding":{
       "x":{"field":"x","type":"quantitative","scale":{"type":"symlog","constant":288,"domain":[-1549,188650],"nice":false,"zero":false},"axis":{"title":"Tigit APC-Cy7","labelColor":"#999","tickColor":"#999","values":[-1000,0,1000,10000,100000],"labelExpr":"datum.value == 0 ? '0' : datum.value < 0 ? '-10³' : datum.value == 1000 ? '10³' : datum.value == 10000 ? '10⁴' : '10⁵'"}},
       "y":{"field":"y","type":"quantitative","scale":{"type":"symlog","constant":288,"domain":[-1549,188650],"nice":false,"zero":false},"axis":{"title":"CTLA-4 BV421","titlePadding":4,"labelColor":"#999","tickColor":"#999","values":[-1000,0,1000,10000,100000],"labelExpr":"datum.value == 0 ? '0' : datum.value < 0 ? '-10³' : datum.value == 1000 ? '10³' : datum.value == 10000 ? '10⁴' : '10⁵'"}},
       "size":{"field":"d","type":"quantitative","scale":{"type":"pow","exponent":2,"domain":[0,2],"range":[0,9880]},"legend":null},
       "shape":{"field":"f","type":"nominal","scale":{"domain":["c","e9","e8","e7","e6","e5","e4"],"range":["M-1,0A1,1,0,1,0,1,0A1,1,0,1,0,-1,0Z","M-1,0A1,0.88,0,1,0,1,0A1,0.88,0,1,0,-1,0Z","M-1,0A1,0.8,0,1,0,1,0A1,0.8,0,1,0,-1,0Z","M-1,0A1,0.7,0,1,0,1,0A1,0.7,0,1,0,-1,0Z","M-1,0A1,0.6,0,1,0,1,0A1,0.6,0,1,0,-1,0Z","M-1,0A1,0.5,0,1,0,1,0A1,0.5,0,1,0,-1,0Z","M-1,0A1,0.42,0,1,0,1,0A1,0.42,0,1,0,-1,0Z"]},"legend":null},
       "angle":{"field":"a","type":"quantitative","scale":null}}},
     {"data":{"name":"gates"},"transform":[{"filter":"datum.p=='P4'"}],
      "mark":{"type":"rect","fill":"transparent","stroke":"#000","strokeWidth":1.3},
      "encoding":{"x":{"field":"x","type":"quantitative"},"x2":{"field":"xe"},"y":{"field":"y","type":"quantitative"},"y2":{"field":"ye"}}},
     {"data":{"name":"labels"},"transform":[{"filter":"datum.p=='P4'"}],
      "mark":{"type":"text","fontSize":21,"font":"Liberation Sans","align":"center","baseline":"middle","color":"#000"},
      "encoding":{"x":{"field":"x","type":"quantitative"},"y":{"field":"y","type":"quantitative"},"text":{"field":"t"}}}
    ]},
   {"width":180,"height":180,"view":{"stroke":"#000","strokeWidth":1.5},
    "layer":[
     {"data":{"name":"contours"},"transform":[{"filter":"datum.p=='P7'"}],
      "mark":{"type":"point","filled":false,"stroke":"#000","strokeWidth":0.8,"opacity":1},
      "encoding":{
       "x":{"field":"x","type":"quantitative","scale":{"type":"symlog","constant":288,"domain":[-1549,188650],"nice":false,"zero":false},"axis":{"title":"PD-1 APC","values":[-1000,0,1000,10000,100000],"labelExpr":"datum.value == 0 ? '0' : datum.value < 0 ? '-10³' : datum.value == 1000 ? '10³' : datum.value == 10000 ? '10⁴' : '10⁵'"}},
       "y":{"field":"y","type":"quantitative","scale":{"type":"symlog","constant":288,"domain":[-1549,188650],"nice":false,"zero":false},"axis":{"title":"Vδ2 FITC","titlePadding":15,"values":[-1000,0,1000,10000,100000],"labelExpr":"datum.value == 0 ? '0' : datum.value < 0 ? '-10³' : datum.value == 1000 ? '10³' : datum.value == 10000 ? '10⁴' : '10⁵'"}},
       "size":{"field":"d","type":"quantitative","scale":{"type":"pow","exponent":2,"domain":[0,2],"range":[0,9880]},"legend":null},
       "shape":{"field":"f","type":"nominal","scale":{"domain":["c","e9","e8","e7","e6","e5","e4"],"range":["M-1,0A1,1,0,1,0,1,0A1,1,0,1,0,-1,0Z","M-1,0A1,0.88,0,1,0,1,0A1,0.88,0,1,0,-1,0Z","M-1,0A1,0.8,0,1,0,1,0A1,0.8,0,1,0,-1,0Z","M-1,0A1,0.7,0,1,0,1,0A1,0.7,0,1,0,-1,0Z","M-1,0A1,0.6,0,1,0,1,0A1,0.6,0,1,0,-1,0Z","M-1,0A1,0.5,0,1,0,1,0A1,0.5,0,1,0,-1,0Z","M-1,0A1,0.42,0,1,0,1,0A1,0.42,0,1,0,-1,0Z"]},"legend":null},
       "angle":{"field":"a","type":"quantitative","scale":null}}},
     {"data":{"name":"gates"},"transform":[{"filter":"datum.p=='P7'"}],
      "mark":{"type":"rect","fill":"transparent","stroke":"#000","strokeWidth":1.3},
      "encoding":{"x":{"field":"x","type":"quantitative"},"x2":{"field":"xe"},"y":{"field":"y","type":"quantitative"},"y2":{"field":"ye"}}},
     {"data":{"name":"labels"},"transform":[{"filter":"datum.p=='P7'"}],
      "mark":{"type":"text","fontSize":21,"font":"Liberation Sans","align":"center","baseline":"middle","color":"#000"},
      "encoding":{"x":{"field":"x","type":"quantitative"},"y":{"field":"y","type":"quantitative"},"text":{"field":"t"}}},
     {"data":{"name":"arrows"},"transform":[{"filter":"datum.p=='P7'"}],
      "mark":{"type":"point","filled":true,"fill":"#000","strokeWidth":0,"opacity":1,"shape":"M-1,-0.37L0,-0.37L0,-0.85L1,0L0,0.85L0,0.37L-1,0.37Z","size":729},
      "encoding":{"x":{"field":"x","type":"quantitative"},"y":{"field":"y","type":"quantitative"}}}
    ]},
   {"width":180,"height":180,"view":{"stroke":"#bbb","strokeWidth":1},
    "layer":[
     {"data":{"name":"contours"},"transform":[{"filter":"datum.p=='P8'"}],
      "mark":{"type":"point","filled":false,"stroke":"#444","strokeWidth":0.7,"opacity":1},
      "encoding":{
       "x":{"field":"x","type":"quantitative","scale":{"type":"symlog","constant":288,"domain":[-1549,188650],"nice":false,"zero":false},"axis":{"title":"Tigit APC-Cy7","labelColor":"#999","tickColor":"#999","values":[-1000,0,1000,10000,100000],"labelExpr":"datum.value == 0 ? '0' : datum.value < 0 ? '-10³' : datum.value == 1000 ? '10³' : datum.value == 10000 ? '10⁴' : '10⁵'"}},
       "y":{"field":"y","type":"quantitative","scale":{"type":"symlog","constant":288,"domain":[-1549,188650],"nice":false,"zero":false},"axis":{"title":"CTLA-4 BV421","titlePadding":4,"labelColor":"#999","tickColor":"#999","values":[-1000,0,1000,10000,100000],"labelExpr":"datum.value == 0 ? '0' : datum.value < 0 ? '-10³' : datum.value == 1000 ? '10³' : datum.value == 10000 ? '10⁴' : '10⁵'"}},
       "size":{"field":"d","type":"quantitative","scale":{"type":"pow","exponent":2,"domain":[0,2],"range":[0,9880]},"legend":null},
       "shape":{"field":"f","type":"nominal","scale":{"domain":["c","e9","e8","e7","e6","e5","e4"],"range":["M-1,0A1,1,0,1,0,1,0A1,1,0,1,0,-1,0Z","M-1,0A1,0.88,0,1,0,1,0A1,0.88,0,1,0,-1,0Z","M-1,0A1,0.8,0,1,0,1,0A1,0.8,0,1,0,-1,0Z","M-1,0A1,0.7,0,1,0,1,0A1,0.7,0,1,0,-1,0Z","M-1,0A1,0.6,0,1,0,1,0A1,0.6,0,1,0,-1,0Z","M-1,0A1,0.5,0,1,0,1,0A1,0.5,0,1,0,-1,0Z","M-1,0A1,0.42,0,1,0,1,0A1,0.42,0,1,0,-1,0Z"]},"legend":null},
       "angle":{"field":"a","type":"quantitative","scale":null}}},
     {"data":{"name":"gates"},"transform":[{"filter":"datum.p=='P8'"}],
      "mark":{"type":"rect","fill":"transparent","stroke":"#000","strokeWidth":1.3},
      "encoding":{"x":{"field":"x","type":"quantitative"},"x2":{"field":"xe"},"y":{"field":"y","type":"quantitative"},"y2":{"field":"ye"}}},
     {"data":{"name":"labels"},"transform":[{"filter":"datum.p=='P8'"}],
      "mark":{"type":"text","fontSize":21,"font":"Liberation Sans","align":"center","baseline":"middle","color":"#000"},
      "encoding":{"x":{"field":"x","type":"quantitative"},"y":{"field":"y","type":"quantitative"},"text":{"field":"t"}}}
    ]},
   {"width":180,"height":180,"view":{"stroke":"#000","strokeWidth":1.5},
    "layer":[
     {"data":{"name":"contours"},"transform":[{"filter":"datum.p=='P11'"}],
      "mark":{"type":"point","filled":false,"stroke":"#000","strokeWidth":0.8,"opacity":1},
      "encoding":{
       "x":{"field":"x","type":"quantitative","scale":{"type":"symlog","constant":288,"domain":[-1549,188650],"nice":false,"zero":false},"axis":{"title":"PD-1 AF488","values":[-1000,0,1000,10000,100000],"labelExpr":"datum.value == 0 ? '0' : datum.value < 0 ? '-10³' : datum.value == 1000 ? '10³' : datum.value == 10000 ? '10⁴' : '10⁵'"}},
       "y":{"field":"y","type":"quantitative","scale":{"type":"symlog","constant":288,"domain":[-1549,188650],"nice":false,"zero":false},"axis":{"title":"CD3 BV785","titlePadding":15,"values":[-1000,0,1000,10000,100000],"labelExpr":"datum.value == 0 ? '0' : datum.value < 0 ? '-10³' : datum.value == 1000 ? '10³' : datum.value == 10000 ? '10⁴' : '10⁵'"}},
       "size":{"field":"d","type":"quantitative","scale":{"type":"pow","exponent":2,"domain":[0,2],"range":[0,9880]},"legend":null},
       "shape":{"field":"f","type":"nominal","scale":{"domain":["c","e9","e8","e7","e6","e5","e4"],"range":["M-1,0A1,1,0,1,0,1,0A1,1,0,1,0,-1,0Z","M-1,0A1,0.88,0,1,0,1,0A1,0.88,0,1,0,-1,0Z","M-1,0A1,0.8,0,1,0,1,0A1,0.8,0,1,0,-1,0Z","M-1,0A1,0.7,0,1,0,1,0A1,0.7,0,1,0,-1,0Z","M-1,0A1,0.6,0,1,0,1,0A1,0.6,0,1,0,-1,0Z","M-1,0A1,0.5,0,1,0,1,0A1,0.5,0,1,0,-1,0Z","M-1,0A1,0.42,0,1,0,1,0A1,0.42,0,1,0,-1,0Z"]},"legend":null},
       "angle":{"field":"a","type":"quantitative","scale":null}}},
     {"data":{"name":"gates"},"transform":[{"filter":"datum.p=='P11'"}],
      "mark":{"type":"rect","fill":"transparent","stroke":"#000","strokeWidth":1.3},
      "encoding":{"x":{"field":"x","type":"quantitative"},"x2":{"field":"xe"},"y":{"field":"y","type":"quantitative"},"y2":{"field":"ye"}}},
     {"data":{"name":"labels"},"transform":[{"filter":"datum.p=='P11'"}],
      "mark":{"type":"text","fontSize":21,"font":"Liberation Sans","align":"center","baseline":"middle","color":"#000"},
      "encoding":{"x":{"field":"x","type":"quantitative"},"y":{"field":"y","type":"quantitative"},"text":{"field":"t"}}},
     {"data":{"name":"arrows"},"transform":[{"filter":"datum.p=='P11'"}],
      "mark":{"type":"point","filled":true,"fill":"#000","strokeWidth":0,"opacity":1,"shape":"M-1,-0.37L0,-0.37L0,-0.85L1,0L0,0.85L0,0.37L-1,0.37Z","size":729},
      "encoding":{"x":{"field":"x","type":"quantitative"},"y":{"field":"y","type":"quantitative"}}}
    ]},
   {"width":180,"height":180,"view":{"stroke":"#bbb","strokeWidth":1},
    "layer":[
     {"data":{"name":"contours"},"transform":[{"filter":"datum.p=='P12'"}],
      "mark":{"type":"point","filled":false,"stroke":"#444","strokeWidth":0.7,"opacity":1},
      "encoding":{
       "x":{"field":"x","type":"quantitative","scale":{"type":"symlog","constant":288,"domain":[-1549,188650],"nice":false,"zero":false},"axis":{"title":"Tigit APC-Cy7","labelColor":"#999","tickColor":"#999","values":[-1000,0,1000,10000,100000],"labelExpr":"datum.value == 0 ? '0' : datum.value < 0 ? '-10³' : datum.value == 1000 ? '10³' : datum.value == 10000 ? '10⁴' : '10⁵'"}},
       "y":{"field":"y","type":"quantitative","scale":{"type":"symlog","constant":288,"domain":[-1549,188650],"nice":false,"zero":false},"axis":{"title":"CTLA-4 BV421","titlePadding":4,"labelColor":"#999","tickColor":"#999","values":[-1000,0,1000,10000,100000],"labelExpr":"datum.value == 0 ? '0' : datum.value < 0 ? '-10³' : datum.value == 1000 ? '10³' : datum.value == 10000 ? '10⁴' : '10⁵'"}},
       "size":{"field":"d","type":"quantitative","scale":{"type":"pow","exponent":2,"domain":[0,2],"range":[0,9880]},"legend":null},
       "shape":{"field":"f","type":"nominal","scale":{"domain":["c","e9","e8","e7","e6","e5","e4"],"range":["M-1,0A1,1,0,1,0,1,0A1,1,0,1,0,-1,0Z","M-1,0A1,0.88,0,1,0,1,0A1,0.88,0,1,0,-1,0Z","M-1,0A1,0.8,0,1,0,1,0A1,0.8,0,1,0,-1,0Z","M-1,0A1,0.7,0,1,0,1,0A1,0.7,0,1,0,-1,0Z","M-1,0A1,0.6,0,1,0,1,0A1,0.6,0,1,0,-1,0Z","M-1,0A1,0.5,0,1,0,1,0A1,0.5,0,1,0,-1,0Z","M-1,0A1,0.42,0,1,0,1,0A1,0.42,0,1,0,-1,0Z"]},"legend":null},
       "angle":{"field":"a","type":"quantitative","scale":null}}},
     {"data":{"name":"gates"},"transform":[{"filter":"datum.p=='P12'"}],
      "mark":{"type":"rect","fill":"transparent","stroke":"#000","strokeWidth":1.3},
      "encoding":{"x":{"field":"x","type":"quantitative"},"x2":{"field":"xe"},"y":{"field":"y","type":"quantitative"},"y2":{"field":"ye"}}},
     {"data":{"name":"labels"},"transform":[{"filter":"datum.p=='P12'"}],
      "mark":{"type":"text","fontSize":21,"font":"Liberation Sans","align":"center","baseline":"middle","color":"#000"},
      "encoding":{"x":{"field":"x","type":"quantitative"},"y":{"field":"y","type":"quantitative"},"text":{"field":"t"}}}
    ]}
  ]}
]
}
